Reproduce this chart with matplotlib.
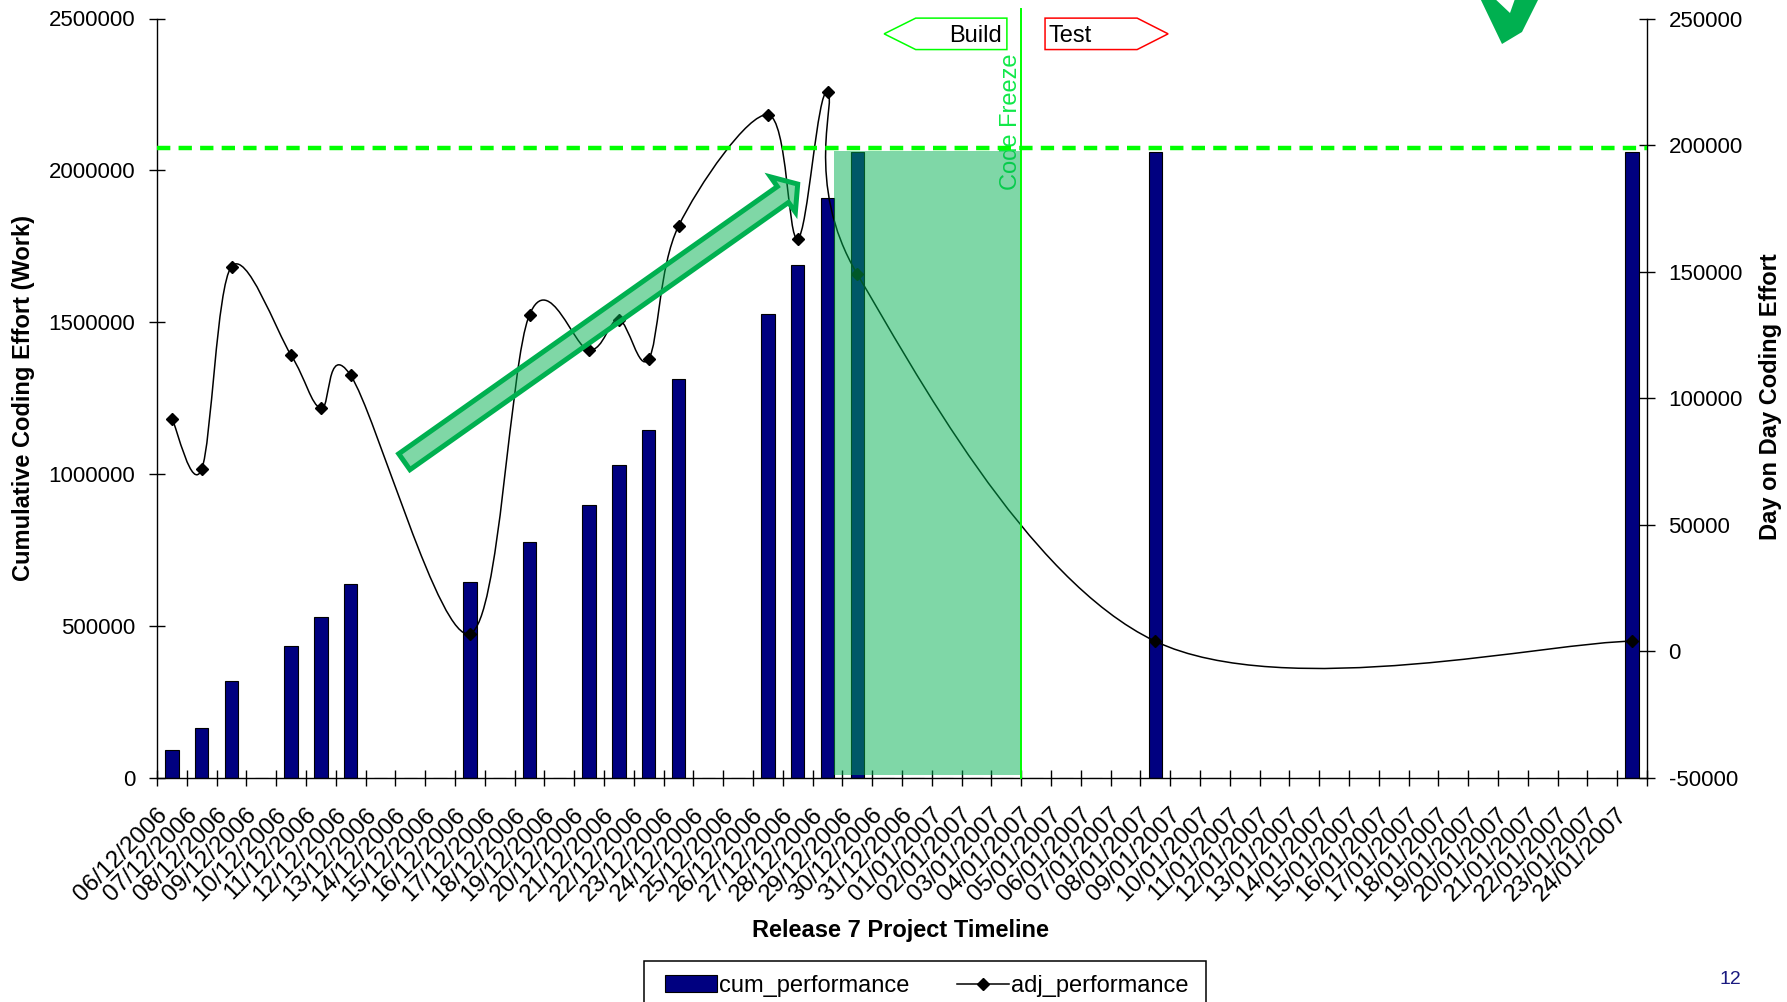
import numpy as np
import matplotlib
matplotlib.use("Agg")
import matplotlib.pyplot as plt
from matplotlib.path import Path
from matplotlib.patches import PathPatch, Polygon, Rectangle, FancyArrowPatch
from matplotlib.lines import Line2D
from matplotlib.transforms import blended_transform_factory, ScaledTranslation

plt.rcParams['font.family'] = ['Liberation Sans', 'DejaVu Sans']

# ---- data -------------------------------------------------------------
dates = [
    "06/12/2006", "07/12/2006", "08/12/2006", "09/12/2006", "10/12/2006",
    "11/12/2006", "12/12/2006", "13/12/2006", "14/12/2006", "15/12/2006",
    "16/12/2006", "17/12/2006", "18/12/2006", "19/12/2006", "20/12/2006",
    "21/12/2006", "22/12/2006", "23/12/2006", "24/12/2006", "25/12/2006",
    "26/12/2006", "27/12/2006", "28/12/2006", "29/12/2006", "30/12/2006",
    "31/12/2006", "01/01/2007", "02/01/2007", "03/01/2007", "04/01/2007",
    "05/01/2007", "06/01/2007", "07/01/2007", "08/01/2007", "09/01/2007",
    "10/01/2007", "11/01/2007", "12/01/2007", "13/01/2007", "14/01/2007",
    "15/01/2007", "16/01/2007", "17/01/2007", "18/01/2007", "19/01/2007",
    "20/01/2007", "21/01/2007", "22/01/2007", "23/01/2007", "24/01/2007",
]

N = None
cum_performance = [
    92000, 163000, 318000, N, 433000, 529000, 638000, N, N, N,
    646000, N, 778000, N, 898000, 1029000, 1145000, 1312000, N, N,
    1526000, 1688000, 1909000, 2060000, N, N, N, N, N, N,
    N, N, N, 2062000, N, N, N, N, N, N,
    N, N, N, N, N, N, N, N, N, 2062000,
]
adj_performance = [
    92000, 72000, 152000, N, 117000, 96000, 109000, N, N, N,
    7000, N, 133000, N, 119000, 131000, 115500, 168000, N, N,
    212000, 163000, 221000, 149000, N, N, N, N, N, N,
    N, N, N, 4000, N, N, N, N, N, N,
    N, N, N, N, N, N, N, N, N, 4000,
]

left_ticks = [0, 500000, 1000000, 1500000, 2000000, 2500000]
right_ticks = [-50000, 0, 50000, 100000, 150000, 200000, 250000]
target_level = 2075000       # dashed target line (left axis)
freeze_day = 28.5            # boundary between 03/01 and 04/01
build_start = 22.22          # end of the build window shading

NAVY = "#000080"
GREEN = "#00B050"
LIME = "#00FF00"

# ---- figure -----------------------------------------------------------
W, H = 1787, 1002
fig = plt.figure(figsize=(W / 100, H / 100), dpi=100)
ax = fig.add_axes([157 / W, 224 / H, 1490 / W, 759.5 / H])
ax2 = ax.twinx()

n = len(dates)
x = np.arange(n)
cum = np.array([np.nan if v is None else v for v in cum_performance], float)
adj = np.array([np.nan if v is None else v for v in adj_performance], float)

# bars: cumulative effort
ax.bar(x, np.nan_to_num(cum), width=0.45, color=NAVY, edgecolor="black",
       linewidth=0.8, zorder=2)

# smoothed day-on-day line (Bezier through the points, Catmull-Rom tangents)
mask = ~np.isnan(adj)
pts = np.column_stack([x[mask], adj[mask]]).astype(float)
ext = np.vstack([pts[0], pts, pts[-1]])
verts = [tuple(pts[0])]
codes = [Path.MOVETO]
for i in range(len(pts) - 1):
    p0, p1, p2, p3 = ext[i], ext[i + 1], ext[i + 2], ext[i + 3]
    c1 = p1 + (p2 - p0) / 6.0
    c2 = p2 - (p3 - p1) / 6.0
    verts += [tuple(c1), tuple(c2), tuple(p2)]
    codes += [Path.CURVE4] * 3
ax2.add_patch(PathPatch(Path(verts, codes), fill=False, edgecolor="black",
                        linewidth=1.1, zorder=3))
ax2.plot(pts[:, 0], pts[:, 1], linestyle="none", marker="D", markersize=6.3,
         color="black", zorder=4)

# axes limits / ticks
ax.set_xlim(-0.5, n - 0.5)
ax.set_ylim(left_ticks[0], left_ticks[-1])
ax2.set_ylim(right_ticks[0], right_ticks[-1])

ax.set_yticks(left_ticks, labels=[str(t) for t in left_ticks])
ax2.set_yticks(right_ticks, labels=[str(t) for t in right_ticks])
ax.set_xticks(np.arange(n + 1) - 0.5, labels=[""] * (n + 1))
ax.set_xticks(x, labels=dates, minor=True)

ax.tick_params(axis="y", direction="inout", length=12, width=1.0,
               labelsize=16, pad=9.5)
ax2.tick_params(axis="y", direction="inout", length=12, width=1.0,
                labelsize=16, pad=9.5)
ax.tick_params(axis="x", which="major", direction="inout", length=11,
               width=1.0)
ax.tick_params(axis="x", which="minor", length=0, labelsize=17.5, pad=24)
shift = ScaledTranslation(-8 / 100, 0, fig.dpi_scale_trans)
for lab in ax.get_xticklabels(minor=True):
    lab.set_rotation(45)
    lab.set_ha("right")
    lab.set_va("center")
    lab.set_rotation_mode("anchor")
    lab.set_transform(lab.get_transform() + shift)

for s in ("top", "right"):
    ax.spines[s].set_visible(False)
for s in ("top", "left", "bottom"):
    ax2.spines[s].set_visible(False)
for sp in (ax.spines["left"], ax.spines["bottom"], ax2.spines["right"]):
    sp.set_linewidth(1.0)

ax.set_xlabel("Release 7 Project Timeline", fontsize=17, fontweight="bold",
              va="center")
ax.xaxis.set_label_coords((901 - 157) / 1490, (778 - 931) / 759.5)
ax.set_ylabel("Cumulative Coding Effort (Work)", fontsize=17,
              fontweight="bold", va="center")
ax.yaxis.set_label_coords((24 - 157) / 1490, 0.5)
ax2.set_ylabel("Day on Day Coding Effort", fontsize=17, fontweight="bold",
               va="center", rotation=90)
ax2.yaxis.set_label_coords((1770 - 157) / 1490, 0.502)

# ---- annotations -------------------------------------------------------
# "Code Freeze" label (sits under the shading)
ax2.text(28.15, 2159000, "Code Freeze", transform=ax.transData,
         rotation=90, ha="center", va="center", fontsize=17,
         color="#10e848", zorder=5)

# build-window shading
ax2.add_patch(Rectangle((build_start, 10000), freeze_day - build_start,
                        2065000 - 10000, transform=ax.transData,
                        facecolor=GREEN, alpha=0.5, edgecolor="none",
                        zorder=6))

# trend arrow
ax2.add_patch(FancyArrowPatch((7.8, 1041000), (21.0, 1955000),
                              transform=ax.transData,
                              arrowstyle="simple,head_length=13,head_width=31,tail_width=14",
                              mutation_scale=1, shrinkA=0, shrinkB=0,
                              facecolor=(0, 0.69, 0.31, 0.5),
                              edgecolor=GREEN, linewidth=3.6,
                              joinstyle="miter", zorder=7))

# target line and code-freeze marker
ax2.plot([-0.5, n - 0.5], [target_level] * 2, transform=ax.transData,
         color=LIME, linewidth=3.2, dashes=(3.0, 1.85), zorder=8,
         clip_on=False, solid_capstyle="butt", dash_capstyle="butt")
ax2.axvline(freeze_day, ymin=0, ymax=1.0125, color=LIME, linewidth=1.4,
            clip_on=False, zorder=8)

# phase tags above the plot
tr = blended_transform_factory(ax.transData, ax.transAxes)
yt, ym, yb = 1.0005, 0.9798, 0.9591
build_tag = Polygon([(23.9, ym), (24.96, yt), (28.02, yt), (28.02, yb),
                     (24.96, yb)], closed=True, transform=tr,
                    facecolor="white", edgecolor=LIME, linewidth=1.1,
                    clip_on=False, zorder=9)
test_tag = Polygon([(29.3, yt), (32.39, yt), (33.43, ym), (32.39, yb),
                    (29.3, yb)], closed=True, transform=tr,
                   facecolor="white", edgecolor="#FF0000", linewidth=1.1,
                   clip_on=False, zorder=9)
ax2.add_patch(build_tag)
ax2.add_patch(test_tag)
ax2.text(27.86, ym, "Build", transform=tr, ha="right",
         va="center_baseline", fontsize=17, zorder=10, clip_on=False)
ax2.text(29.42, ym, "Test", transform=tr, ha="left",
         va="center_baseline", fontsize=17, zorder=10, clip_on=False)

# tick mark symbol at the top right
tick_px = [(1479, -4), (1502, 44), (1522, 32), (1540, -4), (1516, -4),
           (1510, 13), (1492, -4)]
fig.patches.append(Polygon([(px / W, 1 - py / H) for px, py in tick_px],
                           closed=True, transform=fig.transFigure,
                           facecolor=GREEN, edgecolor="none"))

# legend with its own box (wider side margins than a legend frame allows)
fig.patches.append(Rectangle((644 / W, 1 - 1012 / H), (1206 - 644) / W,
                             (1012 - 961) / H, transform=fig.transFigure,
                             facecolor="white", edgecolor="black",
                             linewidth=1.1, zorder=1))
handles = [Rectangle((0, 0), 1, 1, facecolor=NAVY, edgecolor="black",
                     linewidth=0.8),
           Line2D([], [], color="black", linewidth=1.1, marker="D",
                  markersize=6)]
leg = fig.legend(handles, ["cum_performance", "adj_performance"],
                 loc="upper left", bbox_to_anchor=(665 / W, 1 - 975 / H),
                 ncol=2, fontsize=17, frameon=False, borderpad=0,
                 handlelength=2.2, handletextpad=0.1, columnspacing=2.0,
                 borderaxespad=0)

fig.text(1730 / W, 1 - 980 / H, "12", color="#1a1a80", fontsize=14,
         ha="center", va="center")

fig.savefig("out.png", dpi=100)
